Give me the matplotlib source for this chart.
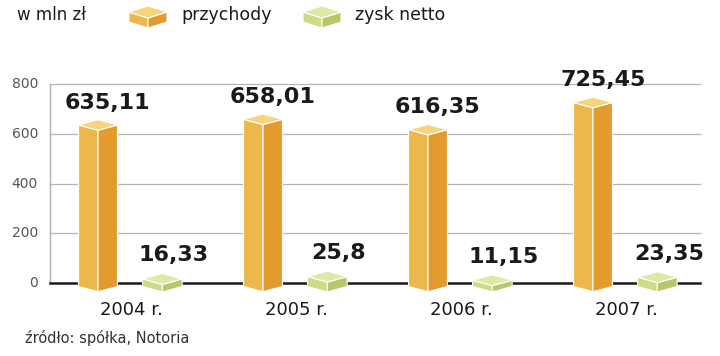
import matplotlib
matplotlib.use("Agg")
import matplotlib.pyplot as plt

# dane (mln zł)
years = ["2004 r.", "2005 r.", "2006 r.", "2007 r."]
revenue = [635.11, 658.01, 616.35, 725.45]
profit = [16.33, 25.8, 11.15, 23.35]
revenue_labels = ["635,11", "658,01", "616,35", "725,45"]
profit_labels = ["16,33", "25,8", "11,15", "23,35"]
yticks = [0, 200, 400, 600, 800]

REV = {"top": "#F6D47C", "left": "#EDB84B", "right": "#E39B2E"}
PRF = {"top": "#DFE9A6", "left": "#CBDB86", "right": "#B5C968"}

W, H = 720, 356
fig = plt.figure(figsize=(W / 100, H / 100), dpi=100)
fig.patch.set_facecolor("white")

# wykres: y=0 na 283 px, y=800 na 84 px, x od 50 do 700 px
ax = fig.add_axes([50 / W, (H - 283) / H, 650 / W, (283 - 84) / H])
ax.set_xlim(-48 / 165, 602 / 165)
ax.set_ylim(0, 800)
ax.axis("off")


def box(ax, c, v, w, d, base, col):
    # bryła widziana od narożnika: dwie ściany i romb na górze
    ax.fill([c - w, c, c, c - w], [v, v - d, base - d, base],
            color=col["left"], ec="white", lw=0.8, zorder=3, clip_on=False)
    ax.fill([c, c + w, c + w, c], [v - d, v, base, base - d],
            color=col["right"], ec="white", lw=0.8, zorder=3, clip_on=False)
    ax.fill([c - w, c, c + w, c], [v, v + d, v, v - d],
            color=col["top"], ec="white", lw=0.8, zorder=4, clip_on=False)


# siatka
for t in yticks[1:]:
    ax.plot([-48 / 165, 602 / 165], [t, t], color="#b5b5b5", lw=0.9, zorder=1, clip_on=False)
    ax.text(-60 / 165, t, str(t), ha="right", va="center", fontsize=10,
            color="#555555", clip_on=False)
ax.text(-60 / 165, 0, "0", ha="right", va="center", fontsize=10, color="#555555")
ax.plot([-48 / 165, -48 / 165], [0, 800], color="#b0b0b0", lw=1.0, zorder=1, clip_on=False)
ax.plot([-48 / 165, 602 / 165], [0, 0], color="#1a1a1a", lw=1.8, zorder=2, clip_on=False)

for i in range(len(years)):
    box(ax, i, revenue[i], 0.118, 21, -14, REV)
    box(ax, i + 0.39, profit[i], 0.12, 22, -14, PRF)
    ax.text(i + 0.06, revenue[i] + 50, revenue_labels[i], ha="center", va="bottom",
            fontsize=16, fontweight="bold", color="#1a1a1a", zorder=5)
    ax.text(i + 0.46, profit[i] + 55, profit_labels[i], ha="center", va="bottom",
            fontsize=16, fontweight="bold", color="#1a1a1a", zorder=5)
    ax.text(i + 0.2, -108, years[i], ha="center", va="center", fontsize=13,
            color="#1a1a1a", clip_on=False)

# nagłówek i legenda
ov = fig.add_axes([0, 0, 1, 1], zorder=-1)
ov.set_xlim(0, W)
ov.set_ylim(H, 0)
ov.axis("off")


def legend_box(x0, col):
    w, d, h = 19, 6, 10
    c, v = x0 + w, 12
    ov.fill([c - w, c, c, c - w], [v, v + d, v + d + h, v + h], color=col["left"], ec="white", lw=0.8)
    ov.fill([c, c + w, c + w, c], [v + d, v, v + h, v + d + h], color=col["right"], ec="white", lw=0.8)
    ov.fill([c - w, c, c + w, c], [v, v - d, v, v + d], color=col["top"], ec="white", lw=0.8)


ov.text(17, 15, "w mln zł", ha="left", va="center", fontsize=12, color="#1a1a1a")
legend_box(129, REV)
ov.text(181, 15, "przychody", ha="left", va="center", fontsize=12.5, color="#1a1a1a")
legend_box(303, PRF)
ov.text(355, 15, "zysk netto", ha="left", va="center", fontsize=12.5, color="#1a1a1a")
ov.text(25, 338, "źródło: spółka, Notoria", ha="left", va="center", fontsize=10.5,
        color="#333333", family="Liberation Sans Narrow")

fig.savefig("out.png", dpi=100, facecolor="white")
